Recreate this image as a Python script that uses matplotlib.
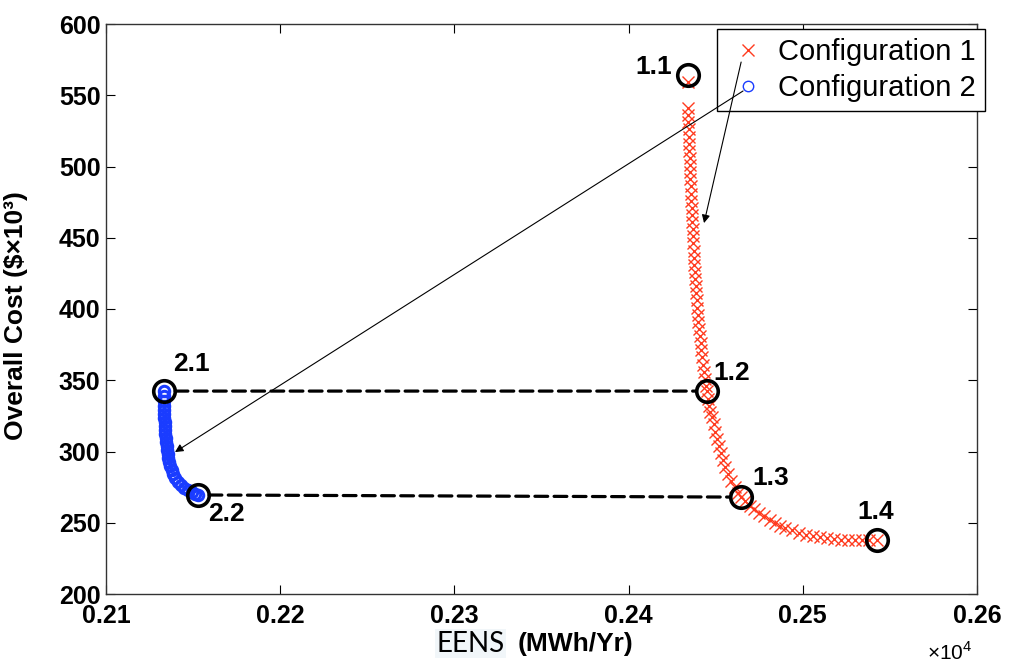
import numpy as np
import matplotlib
matplotlib.use('Agg')
import matplotlib.pyplot as plt
from matplotlib.ticker import FuncFormatter

plt.rcParams['font.family'] = ['Liberation Sans', 'DejaVu Sans']
plt.rcParams['mathtext.fontset'] = 'custom'
plt.rcParams['mathtext.rm'] = 'Liberation Sans'

# Configuracao 1: (EENS em MWh/Yr, custo em $x10^3)
config1_eens = [2434.0, 2434.0, 2434.2, 2434.3, 2434.5, 2434.6, 2434.8, 2434.9, 2435.1, 2435.2,
                2435.4, 2435.5, 2435.7, 2435.9, 2436.0, 2436.2, 2436.4, 2436.6, 2436.8, 2437.0,
                2437.2, 2437.4, 2437.6, 2437.8, 2438.0, 2438.3, 2438.6, 2438.9, 2439.2, 2439.5,
                2439.8, 2440.1, 2440.5, 2440.9, 2441.3, 2441.7, 2442.2, 2442.7, 2443.2, 2443.8,
                2444.4, 2445.0, 2445.6, 2446.3, 2447.0, 2447.9, 2448.8, 2449.8, 2450.9, 2452.0,
                2453.1, 2454.2, 2455.5, 2457.0, 2458.8, 2460.8, 2462.6, 2464.5, 2467.0, 2469.5,
                2472.0, 2475.0, 2478.0, 2481.0, 2484.0, 2487.0, 2490.0, 2494.0, 2498.0, 2502.0,
                2506.0, 2510.0, 2514.0, 2518.0, 2522.0, 2526.0, 2530.0, 2534.0, 2538.0, 2542.6]
config1_cost = [559.0, 541, 536, 531, 526, 521, 516, 511, 506, 501,
                496, 491, 486, 481, 476, 471, 466, 461, 456, 451,
                446, 441, 436, 431, 426, 421, 416, 411, 406, 401,
                396, 391, 386, 381, 376, 371, 366, 361, 356, 351,
                346, 342.4, 337, 332, 328, 324, 319, 314, 309, 304,
                299, 294, 289, 284, 279, 275, 271, 268, 265, 262,
                259.5, 257, 254.5, 252, 249.8, 248, 246.5, 245, 243, 241.5,
                240.5, 239.8, 239, 238.5, 238, 238, 237.8, 237.7, 237.6, 237.9]

# Configuracao 2
config2_eens = [2133.3, 2133.3, 2133.3, 2133.3, 2133.3, 2133.4, 2133.5, 2133.6, 2133.7, 2133.9,
                2134.1, 2134.3, 2134.5, 2134.8, 2135.0, 2135.4, 2135.8, 2136.3, 2136.9, 2137.7,
                2138.6, 2139.8, 2141.2, 2143.0, 2145.0, 2147.1, 2149.4, 2151.1, 2152.8]
config2_cost = [342.4, 338.9, 335.4, 331.9, 329.1, 326.3, 323.5, 320.7, 317.9, 315.1,
                312.3, 309.5, 306.7, 303.9, 301.0, 298.2, 295.4, 292.6, 289.8, 287.0,
                284.2, 281.4, 278.6, 276.2, 274.4, 272.9, 271.6, 270.4, 269.5]

# Pontos destacados
pontos_nomes = ['1.1', '1.2', '1.3', '1.4', '2.1', '2.2']
pontos_eens = [2434.1, 2445.0, 2464.5, 2542.6, 2133.3, 2152.8]
pontos_cost = [564.0, 342.4, 268.0, 237.9, 342.4, 269.5]
# posicao dos rotulos (x, y, alinhamento)
rotulos_pos = [(2425.0, 569.5, 'right'), (2448.5, 355.4, 'left'), (2470.9, 281.7, 'left'),
               (2541.8, 257.2, 'center'), (2138.5, 361.4, 'left'), (2158.6, 256.1, 'left')]

# ligacoes tracejadas (indices dos pontos)
ligacoes = [(4, 1), (5, 2)]

# setas: (inicio, fim)
setas = [((2464.6, 573.3), (2443.3, 460.3)),
         ((2465.7, 553.0), (2139.6, 299.6))]

fig = plt.figure(figsize=(10.1, 6.63), dpi=100)
ax = fig.add_axes([106 / 1010, 69 / 663, 871 / 1010, 570 / 663])

# linhas tracejadas entre pontos equivalentes
for a, b in ligacoes:
    ax.annotate('', xy=(pontos_eens[b], pontos_cost[b]), xytext=(pontos_eens[a], pontos_cost[a]),
                arrowprops=dict(arrowstyle='-', linestyle=(0, (4, 2)), lw=2.3, color='black',
                                shrinkA=8, shrinkB=8), zorder=2)

ax.plot(config1_eens, config1_cost, 'x', color='#ff3b1f', markersize=8.5, mew=1.0,
        linestyle='none', label='Configuration 1', zorder=3)
ax.plot(config2_eens, config2_cost, 'o', color='#1a3cff', markersize=7.5, mew=2.2,
        markerfacecolor='none', linestyle='none', label='Configuration 2', zorder=3)

ax.plot(pontos_eens, pontos_cost, 'o', markersize=15.5, mew=2.6, markerfacecolor='none',
        markeredgecolor='black', linestyle='none', zorder=4)

for nome, (tx, ty, ha) in zip(pontos_nomes, rotulos_pos):
    ax.text(tx, ty, nome, ha=ha, va='center', fontsize=19, fontweight='bold', zorder=6)

for ini, fim in setas:
    ax.annotate('', xy=fim, xytext=ini,
                arrowprops=dict(arrowstyle='-|>', lw=0.8, color='black', mutation_scale=12,
                                shrinkA=0, shrinkB=0), zorder=10)

ax.set_xlim(2100, 2600)
ax.set_ylim(200, 600)
ax.set_xticks(np.arange(2100, 2601, 100))
ax.set_yticks(np.arange(200, 601, 50))
ax.xaxis.set_major_formatter(FuncFormatter(lambda v, p: f'{v / 1e4:.2f}'))
ax.tick_params(direction='in', length=6.5, width=0.8, top=True, right=True, labelsize=18)
ax.tick_params(axis='x', pad=7)
ax.tick_params(axis='y', pad=4)
for lab in ax.get_xticklabels() + ax.get_yticklabels():
    lab.set_fontweight('bold')
for s in ax.spines.values():
    s.set_color('#333333')
    s.set_linewidth(1.0)

ax.set_ylabel('Overall Cost ($×10³)', fontsize=19, fontweight='bold')
ax.yaxis.set_label_coords(-0.0896, 0.489)

ax.text(0.418, -0.087, 'EENS', transform=ax.transAxes, ha='center', va='center',
        fontsize=20, family=['Lato', 'DejaVu Sans'],
        bbox=dict(facecolor='#f1f6f9', edgecolor='none', pad=1))
ax.text(0.5385, -0.087, '(MWh/Yr)', transform=ax.transAxes, ha='center', va='center',
        fontsize=19, fontweight='bold')
ax.text(0.969, -0.1035, r'$\times10^4$', transform=ax.transAxes, ha='center', va='center',
        fontsize=15)

leg = ax.legend(loc='upper left', bbox_to_anchor=(717 / 1010, 1 - 29 / 663),
                bbox_transform=fig.transFigure, fontsize=21, frameon=True, fancybox=False,
                edgecolor='black', framealpha=1, handlelength=1.5, handletextpad=0.3,
                borderpad=0.3, labelspacing=0.3, borderaxespad=0)
leg.get_frame().set_linewidth(1.0)
leg.set_zorder(5)
for h in leg.legend_handles:
    h.set_markeredgewidth(1.0)

fig.savefig('out.png', dpi=100)
